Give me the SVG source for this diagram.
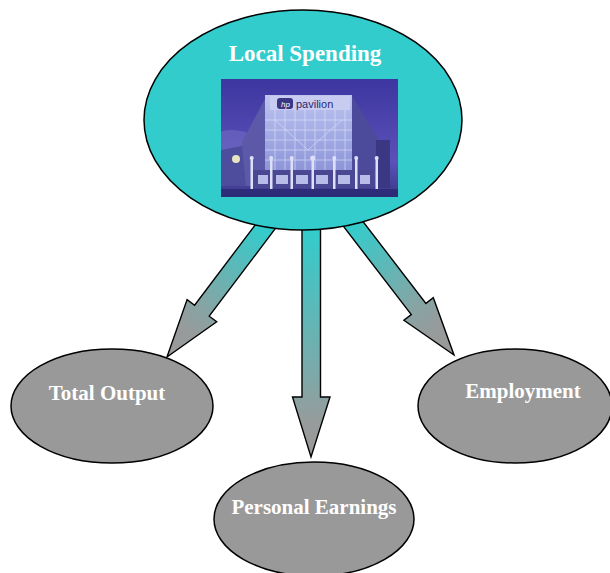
<svg xmlns="http://www.w3.org/2000/svg" width="610" height="573" viewBox="0 0 610 573">
<style>
.lbl{font-family:"Liberation Serif","Times New Roman",serif;font-weight:bold;fill:#ffffff;text-anchor:middle}
.arrow{stroke:#000;stroke-width:1.4;stroke-linejoin:miter}
.out{fill:#999999;stroke:#000;stroke-width:1.5}
.col{fill:#dde0f8}
</style>
<defs>
<linearGradient id="gM" gradientUnits="userSpaceOnUse" x1="311" y1="230" x2="311" y2="457">
<stop offset="0" stop-color="#33CCCC"/><stop offset="0.7" stop-color="#85a5a5"/><stop offset="0.85" stop-color="#979b9b"/><stop offset="1" stop-color="#999999"/></linearGradient>
<linearGradient id="gL" gradientUnits="userSpaceOnUse" x1="264" y1="228" x2="167" y2="357">
<stop offset="0" stop-color="#33CCCC"/><stop offset="0.6" stop-color="#85a5a5"/><stop offset="0.8" stop-color="#979b9b"/><stop offset="1" stop-color="#999999"/></linearGradient>
<linearGradient id="gR" gradientUnits="userSpaceOnUse" x1="354" y1="225" x2="454" y2="355">
<stop offset="0" stop-color="#33CCCC"/><stop offset="0.6" stop-color="#85a5a5"/><stop offset="0.8" stop-color="#979b9b"/><stop offset="1" stop-color="#999999"/></linearGradient>
<linearGradient id="sky" x1="0" y1="0" x2="0" y2="1">
<stop offset="0" stop-color="#3e36a0"/><stop offset="0.7" stop-color="#5a52b8"/><stop offset="1" stop-color="#3a3888"/></linearGradient>
<linearGradient id="glass" x1="0" y1="0" x2="0" y2="1">
<stop offset="0" stop-color="#bcc4f0"/><stop offset="1" stop-color="#8c94d8"/></linearGradient>
<clipPath id="photoClip"><rect x="221" y="79" width="177" height="118"/></clipPath>
</defs>

<g id="connectors">
<polygon class="arrow" fill="url(#gM)" points="302,205 320.5,205 320.5,397 330,397 311,457 292.5,397 302,397"/>
<polygon class="arrow" fill="url(#gL)" points="268.7,207 283.3,218 209.2,316.2 216.7,321.8 167,357 187.1,299.6 194.6,305.2"/>
<polygon class="arrow" fill="url(#gR)" points="349.1,203.5 425.9,303.4 433.3,297.7 454,355 403.9,320.3 411.3,314.6 334.5,214.7"/>
</g>

<g id="node-local-spending">
<ellipse cx="303" cy="120" rx="159" ry="110" fill="#33CCCC" stroke="#000" stroke-width="1.5"/>
<text class="lbl" x="305" y="61" font-size="23">Local Spending</text>
<g id="photo" clip-path="url(#photoClip)">
<rect x="221" y="79" width="177" height="118" fill="url(#sky)"/>
<ellipse cx="232" cy="150" rx="30" ry="20" fill="#7a72c8" opacity="0.5"/>
<polygon points="242,142 265,99 265,186 238,186" fill="#5c5aa8"/>
<polygon points="221,150 242,146 246,186 221,186" fill="#4e4c9c"/>
<circle cx="236" cy="159" r="4" fill="#e8e4c0"/>
<polygon points="352,96 380,142 382,186 352,186" fill="#4c4a9a"/>
<rect x="376" y="140" width="14" height="48" fill="#3a3882"/>
<rect x="265" y="95" width="87" height="77" fill="url(#glass)"/>
<g stroke="#e4e8fc" stroke-width="0.8" opacity="0.7">
<line x1="275" y1="110" x2="275" y2="172"/><line x1="285" y1="110" x2="285" y2="172"/>
<line x1="295" y1="110" x2="295" y2="172"/><line x1="305" y1="110" x2="305" y2="172"/>
<line x1="315" y1="110" x2="315" y2="172"/><line x1="325" y1="110" x2="325" y2="172"/>
<line x1="335" y1="110" x2="335" y2="172"/><line x1="345" y1="110" x2="345" y2="172"/>
<line x1="265" y1="120" x2="352" y2="120"/><line x1="265" y1="130" x2="352" y2="130"/>
<line x1="265" y1="140" x2="352" y2="140"/><line x1="265" y1="150" x2="352" y2="150"/>
<line x1="265" y1="160" x2="352" y2="160"/>
<line x1="275" y1="120" x2="308" y2="150"/><line x1="342" y1="120" x2="308" y2="150"/>
</g>
<rect x="270" y="96" width="80" height="14" fill="#c8ccf0"/>
<rect x="277" y="98" width="16" height="11" rx="3" fill="#3a3584"/>
<text x="281" y="107" font-family="Liberation Sans,Arial,sans-serif" font-size="8" font-style="italic" fill="#ffffff">hp</text>
<text x="296" y="108" font-family="Liberation Sans,Arial,sans-serif" font-size="11" fill="#2a2a70">pavilion</text>
<rect x="252" y="170" width="122" height="18" fill="#4a4892"/>
<g fill="#b8bce8">
<rect x="258" y="175" width="10" height="9"/><rect x="276" y="175" width="12" height="9"/>
<rect x="296" y="175" width="12" height="9"/><rect x="316" y="175" width="12" height="9"/>
<rect x="338" y="175" width="12" height="9"/><rect x="360" y="175" width="10" height="9"/>
</g>
<g class="col">
<rect x="250.5" y="158" width="2.5" height="34"/><circle cx="251.7" cy="158" r="2"/>
<rect x="270" y="158" width="2.5" height="34"/><circle cx="271.2" cy="158" r="2"/>
<rect x="290.5" y="158" width="2.5" height="34"/><circle cx="291.7" cy="158" r="2"/>
<rect x="311.5" y="158" width="2.5" height="34"/><circle cx="312.7" cy="158" r="2.5"/>
<rect x="333" y="158" width="2.5" height="34"/><circle cx="334.3" cy="158" r="2"/>
<rect x="355" y="158" width="2.5" height="34"/><circle cx="356.2" cy="158" r="2"/>
<rect x="375.5" y="158" width="2.5" height="34"/><circle cx="376.7" cy="158" r="2"/>
</g>
<rect x="221" y="189" width="177" height="8" fill="#2e2c78"/>
</g>
</g>

<g id="node-total-output">
<ellipse class="out" cx="112" cy="406" rx="101" ry="57"/>
<text class="lbl" x="107" y="400" font-size="21">Total Output</text>
</g>

<g id="node-employment">
<ellipse class="out" cx="515" cy="406" rx="97" ry="57"/>
<text class="lbl" x="523" y="398" font-size="21">Employment</text>
</g>

<g id="node-personal-earnings">
<ellipse class="out" cx="314" cy="519" rx="100" ry="57"/>
<text class="lbl" x="314" y="514" font-size="21">Personal Earnings</text>
</g>
</svg>
